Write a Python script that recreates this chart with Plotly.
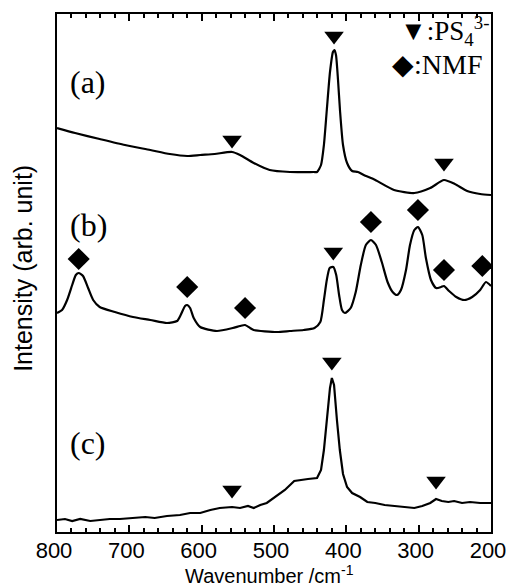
import plotly.graph_objects as go

# ---- data (wavenumber cm^-1, intensity arb. unit) ----
wn_a = [800, 775, 741, 706, 671, 644, 620, 602, 582, 558, 547, 528, 506, 478, 445,
        440.5, 435, 431, 427, 422.6, 418.5, 416.4, 414.3, 411.5, 408.8, 404.6, 399, 392,
        384, 376, 360, 334, 306, 284, 265, 250, 233, 215, 200]
int_a = [404, 399, 393, 387, 382, 378, 376, 377, 378, 380, 377, 369, 362, 360, 360,
         360, 367, 387, 422, 460, 480, 482, 477, 452, 422, 387, 369, 361,
         360, 357, 352, 342, 339, 344, 352, 348, 341, 338, 337]

wn_b = [800, 793, 786, 779, 774, 770, 764, 757, 750, 741, 720, 695, 671, 648, 634,
        629, 623, 620, 616, 611, 602, 579, 557, 547, 540, 533, 528, 496, 478, 459,
        444, 436, 431, 427, 423, 418, 414, 410, 406, 402, 394, 387, 380, 373, 366,
        359, 351, 343, 336, 330, 324.5, 317.5, 312, 306, 301, 295, 290, 283, 276,
        269, 265, 258, 248, 237, 226, 215, 207, 200]
int_b = [219, 222, 232, 247, 257, 259, 256, 244, 232, 225, 220, 215, 212, 209, 211,
         217, 226, 227, 224, 214, 205, 201, 204, 206, 207, 204, 202, 200, 201, 202,
         204, 210, 232, 252, 264, 265, 257, 237, 222, 219, 224, 240, 267, 287, 292,
         287, 270, 250, 240, 237, 242, 262, 287, 302, 305, 297, 274, 252, 244,
         245, 246, 241, 235, 232, 235, 242, 250, 246]

wn_c = [800, 789, 779, 768, 754, 741, 727, 713, 695, 678, 665, 648, 630, 616, 602,
        588, 575, 558, 547, 536, 528, 519, 510, 499, 485, 472, 464, 453, 440.5, 435,
        431, 427, 422.6, 420, 417, 413, 409, 404.6, 399, 392, 381, 371, 360, 347,
        334, 320, 306, 295, 284, 276, 268, 259, 251, 240, 229, 215, 200]
int_c = [12, 13, 11, 13, 11, 12, 13, 13, 14, 15, 14, 16, 17, 19, 19,
         22, 24, 25, 24, 26, 24, 27, 29, 35, 42, 51, 52, 53, 54, 62,
         82, 112, 144, 154, 147, 112, 82, 58, 45, 39, 35, 30, 29, 27,
         26, 25, 24, 26, 29, 33, 31, 30, 31, 29, 30, 29, 29]

# peak assignment markers
tri_wn = [558, 417, 265, 418, 420, 558, 276]
tri_int = [392, 496, 369, 280, 170, 42, 51]
dia_wn = [770, 620, 540, 366, 301, 265, 212]
dia_int = [273, 245, 224, 310, 322, 262, 266]

panel_labels = ["(a)", "(b)", "(c)"]
panel_wn = [757, 757, 757]
panel_int = [450, 307, 89]

x_ticks = [800, 700, 600, 500, 400, 300, 200]

fig = go.Figure()
for wn, it in [(wn_a, int_a), (wn_b, int_b)]:
    fig.add_trace(go.Scatter(x=wn, y=it, mode="lines",
                             line=dict(color="black", width=2.2, shape="spline", smoothing=0.6),
                             showlegend=False, hoverinfo="skip"))
fig.add_trace(go.Scatter(x=wn_c, y=int_c, mode="lines",
                         line=dict(color="black", width=2.2),
                         showlegend=False, hoverinfo="skip"))
fig.add_trace(go.Scatter(x=tri_wn, y=tri_int, mode="markers",
                         marker=dict(symbol="triangle-down", size=17, color="black"),
                         showlegend=False, hoverinfo="skip"))
fig.add_trace(go.Scatter(x=dia_wn, y=dia_int, mode="markers",
                         marker=dict(symbol="diamond", size=17, color="black"),
                         showlegend=False, hoverinfo="skip"))

for lab, xw, yi in zip(panel_labels, panel_wn, panel_int):
    fig.add_annotation(x=xw, y=yi, text=lab, showarrow=False,
                       font=dict(family="Liberation Serif", size=32, color="black"))

fig.add_annotation(x=1.0, y=0.968, xref="paper", yref="paper", xanchor="right", yanchor="middle",
                   text="▼:PS<sub>4</sub><sup>3-</sup>", showarrow=False,
                   font=dict(family="Liberation Serif", size=27, color="black"))
fig.add_annotation(x=0.985, y=0.903, xref="paper", yref="paper", xanchor="right", yanchor="middle",
                   text="◆:NMF", showarrow=False,
                   font=dict(family="Liberation Serif", size=28, color="black"))

# axis titles placed as annotations
fig.add_annotation(x=0.49, y=-0.1081, xref="paper", yref="paper", xanchor="center", yanchor="bottom",
                   text="Wavenumber /cm<sup>-1</sup>", showarrow=False, borderpad=0,
                   font=dict(family="Liberation Sans", size=20, color="black"))
fig.add_annotation(x=-0.0783, y=0.508, xref="paper", yref="paper", xanchor="center", yanchor="middle",
                   text="Intensity (arb. unit)", textangle=-90, showarrow=False,
                   font=dict(family="Liberation Sans", size=25, color="black"))

fig.update_layout(
    width=508, height=588,
    margin=dict(l=57, r=17, t=14, b=56),
    paper_bgcolor="white", plot_bgcolor="white",
    font=dict(family="Liberation Sans", color="black"),
)
fig.update_xaxes(
    range=[800, 200], tickvals=x_ticks, ticktext=[str(v) for v in x_ticks],
    ticks="inside", ticklen=7, tickwidth=2, tickcolor="black",
    minor=dict(dtick=20, ticks="inside", ticklen=4, tickwidth=1.5, tickcolor="black"),
    showline=True, linecolor="black", linewidth=2, mirror="ticks",
    showgrid=False, zeroline=False, automargin=False, ticklabeloverflow="allow",
    ticklabelshift=3, ticklabelstandoff=-2,
    tickfont=dict(family="Liberation Sans", size=22, color="black"),
)
fig.update_yaxes(
    range=[0, 518], showticklabels=False, ticks="",
    showline=True, linecolor="black", linewidth=2, mirror=True,
    showgrid=False, zeroline=False, automargin=False,
)

fig.write_html("out.html", config={"displayModeBar": False},
               post_script="document.body.style.margin='0';document.body.style.overflow='hidden';")
